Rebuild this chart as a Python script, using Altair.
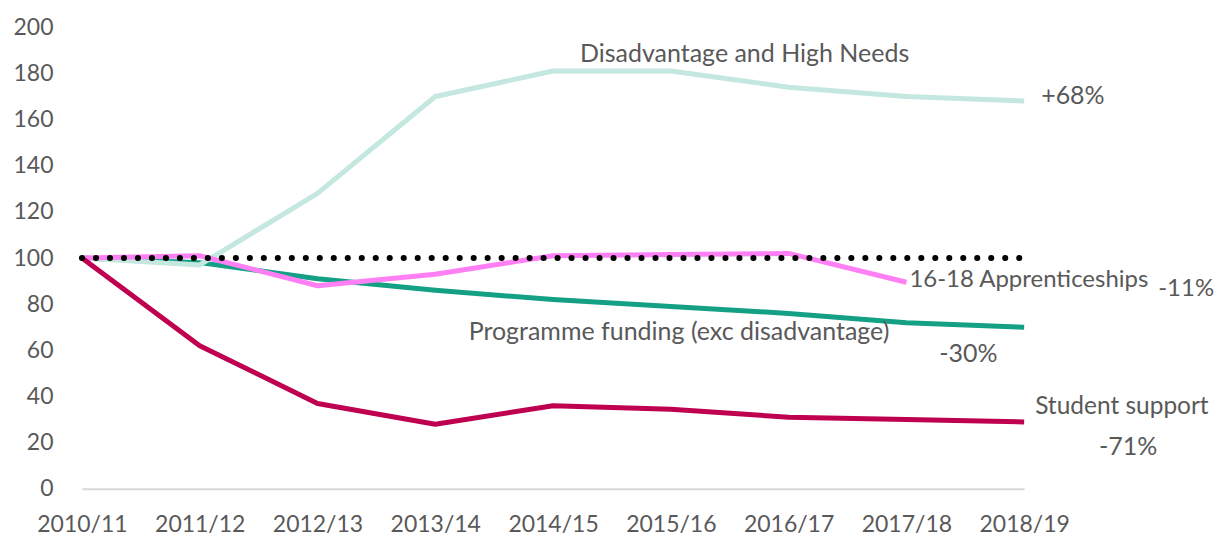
import altair as alt
import pandas as pd

years = ["2010/11", "2011/12", "2012/13", "2013/14", "2014/15",
         "2015/16", "2016/17", "2017/18", "2018/19"]

disadvantage = [100, 97, 128, 170, 181, 181, 174, 170, 168]
programme = [100, 98, 91, 86, 82, 79, 76, 72, 70]
apprenticeships = [100, 101, 88, 93, 101, 101.5, 102, 89.5, None]
student_support = [100, 62, 37, 28, 36, 34.5, 31, 30, 29]
reference_value = 100

series_names = ["Programme funding (exc disadvantage)", "Disadvantage and High Needs",
                "16-18 Apprenticeships", "Student support"]
series_values = [programme, disadvantage, apprenticeships, student_support]
series_colors = ["#14a085", "#c4e7e0", "#ff80f5", "#bf0050"]

FONT = "Lato"
TXT = "#595959"

rows = []
for order, (name, vals) in enumerate(zip(series_names, series_values)):
    for y, v in zip(years, vals):
        if v is not None:
            rows.append({"series": name, "year": y, "value": v, "order": order})
df = pd.DataFrame(rows)

ref_df = pd.DataFrame({"year": years, "value": [reference_value] * len(years)})

xaxis = alt.Axis(title=None, labelAngle=0, ticks=False, domain=True, domainColor="#d9d9d9",
                 domainWidth=2, labelColor=TXT, labelFontSize=23, labelFont=FONT,
                 labelPadding=25, grid=False)
yaxis = alt.Axis(title=None, values=list(range(0, 201, 20)), ticks=False,
                 domain=False, grid=False, labelColor=TXT, labelFontSize=23,
                 labelFont=FONT, labelPadding=29)
xscale = alt.Scale(type="point", padding=0)
yscale = alt.Scale(domain=[0, 200], nice=False)

xenc = alt.X("year:O", sort=years, scale=xscale, axis=xaxis)
yenc = alt.Y("value:Q", scale=yscale, axis=yaxis)

layers = []
for name, color in zip(series_names, series_colors):
    layers.append(
        alt.Chart(df[df.series == name]).mark_line(strokeWidth=5, color=color, strokeJoin="round")
        .encode(x=xenc, y=yenc)
    )

layers.append(
    alt.Chart(ref_df).mark_line(color="black", strokeWidth=6, strokeDash=[0.1, 13.9],
                                strokeCap="round")
    .encode(x=xenc, y=yenc)
)


def label(text, year, value, dx, dy, align="left", size=25):
    d = pd.DataFrame({"year": [year], "value": [value], "label": [text]})
    return alt.Chart(d).mark_text(align=align, baseline="middle", dx=dx, dy=dy,
                                  font=FONT, fontSize=size, color=TXT).encode(
        x=xenc, y=yenc, text="label:N")


layers += [
    label("Disadvantage and High Needs", years[4], disadvantage[4], 27, -17),
    label("+68%", years[8], disadvantage[8], 17, -5),
    label("16-18 Apprenticeships", years[7], apprenticeships[7], 3, -2, size=24),
    label("-11%", years[7], apprenticeships[7], 252, 7, size=24),
    label("Programme funding (exc disadvantage)", years[7], programme[7], -17, 9, align="right"),
    label("-30%", years[8], programme[8], -85, 27),
    label("Student support", years[8], student_support[8], 11, -15, size=24.5),
    label("-71%", years[8], student_support[8], 75, 25),
]

chart = alt.layer(*layers).properties(
    width=943, height=462,
    background="white",
    autosize=alt.AutoSizeParams(type="none"),
    padding={"left": 74, "top": 19, "right": 190, "bottom": 50},
).configure_axis(
    grid=False, ticks=False
).configure_view(stroke=None, strokeWidth=0)

chart.save("out.html", embed_options={"renderer": "svg", "actions": False})
